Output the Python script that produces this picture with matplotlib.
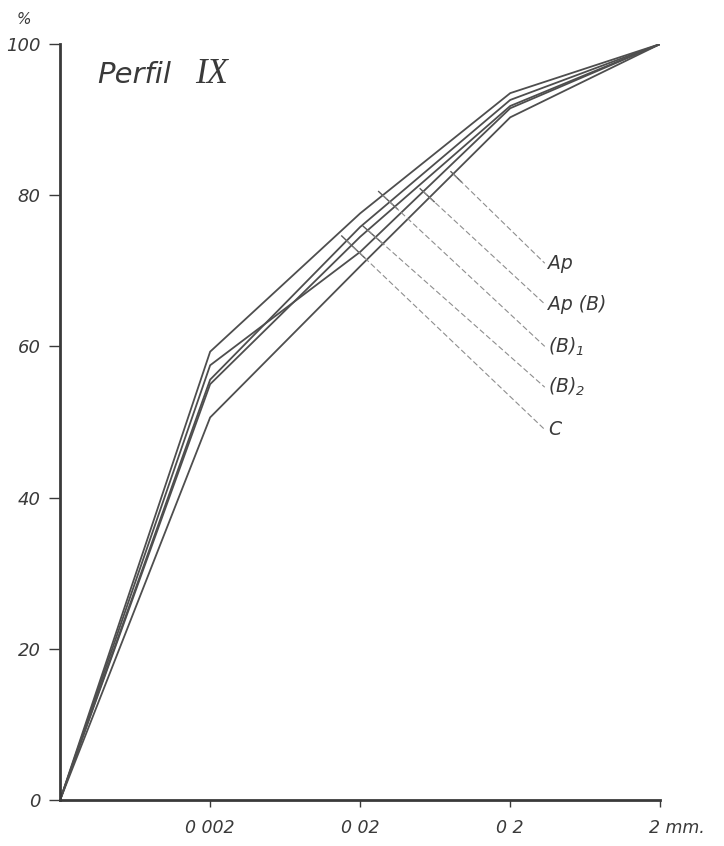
import numpy as np
import matplotlib.pyplot as plt
from matplotlib.transforms import ScaledTranslation, blended_transform_factory

# grain size limits (mm); the first entry is the lower end of the scale (0 %)
sizes = [0.0002, 0.002, 0.02, 0.2, 2.0]
tick_sizes = [0.002, 0.02, 0.2, 2.0]
tick_labels = ["0 002", "0 02", "0 2", "2 mm."]

# cumulative percentage per horizon
horizons = ["Ap", "Ap (B)", "(B)$_1$", "(B)$_2$", "C"]
pct_ap = [0, 50.6, 70.6, 90.3, 100]
pct_apb = [0, 57.5, 72.5, 91.5, 100]
pct_b1 = [0, 59.3, 77.6, 93.5, 100]
pct_b2 = [0, 55.0, 74.5, 91.8, 100]
pct_c = [0, 55.6, 75.8, 92.6, 100]
series = [pct_ap, pct_apb, pct_b1, pct_b2, pct_c]

# where each leader line leaves its curve (mm) and label heights (%)
leader_at = [0.02 * 10 ** 0.62, 0.02 * 10 ** 0.42, 0.02 * 10 ** 0.15,
             0.02 * 10 ** 0.05, 0.02 * 10 ** -0.09]
label_y = [71.0, 65.6, 60.0, 54.6, 49.0]

INK = "#3a3a3a"
plt.rcParams.update({
    "font.family": ["DejaVu Sans"],
    "font.style": "oblique",
    "mathtext.fontset": "custom",
    "mathtext.rm": "DejaVu Sans:oblique",
    "mathtext.it": "DejaVu Sans:oblique",
})

fig = plt.figure(figsize=(7.24, 8.46), dpi=100)
ax = fig.add_axes([0.083, 0.0544, 0.829, 0.8936])

for vals in series:
    ax.plot(sizes, vals, color="#4e4e4e", lw=1.3, solid_joinstyle="miter")

lx = 0.2 * 10 ** 0.23
for xa, vals, yl, name in zip(leader_at, series, label_y, horizons):
    ya = np.interp(np.log10(xa), np.log10(sizes), vals)
    # short solid tick across the curve, then a faint dashed run to the label
    t = np.array([-0.025, 0.09])
    lxs = 10 ** (np.log10(xa) + t * (np.log10(lx) - np.log10(xa)))
    lys = ya + t * (yl - ya)
    ax.plot(lxs, lys, color="#5a5a5a", lw=1.0)
    ax.plot([xa, lx], [ya, yl], color="#8e8e8e", lw=0.8, ls=(0, (5, 2.5)))
    ax.text(lx * 10 ** 0.02, yl, name, fontsize=13.5, color=INK,
            ha="left", va="center")

ax.set_xscale("log")
ax.set_xlim(sizes[0], sizes[-1])
ax.set_ylim(0, 100)
ax.minorticks_off()
ax.set_xticks(tick_sizes)
# the last label hangs to the right of its tick, so it is placed by hand
ax.set_xticklabels(tick_labels[:-1] + [""], fontsize=12.5, color=INK)
bt = blended_transform_factory(ax.transData, ax.transAxes)
ax.text(tick_sizes[-1], 0, tick_labels[-1], fontsize=12.5, color=INK,
        ha="left", va="top",
        transform=bt + ScaledTranslation(-8 / 72, -14 / 72, fig.dpi_scale_trans))
ax.set_yticks([0, 20, 40, 60, 80, 100])
ax.set_yticklabels(["0", "20", "40", "60", "80", "100"], fontsize=13, color=INK)
ax.tick_params(axis="both", direction="out", width=1.0, color=INK)
ax.tick_params(axis="y", length=8, pad=6)
ax.tick_params(axis="x", length=5, pad=9)

for side in ("top", "right"):
    ax.spines[side].set_visible(False)
for side in ("left", "bottom"):
    ax.spines[side].set_linewidth(2.0)
    ax.spines[side].set_color(INK)

ax.text(-0.06, 1.022, "%", transform=ax.transAxes, fontsize=11, color=INK,
        ha="center", va="bottom")
ax.text(0.062, 0.978, "Perfil", transform=ax.transAxes, fontsize=21,
        color=INK, ha="left", va="top")
ax.text(0.225, 0.982, "IX", transform=ax.transAxes, fontsize=25,
        color=INK, ha="left", va="top", family="Liberation Serif",
        style="italic")

fig.savefig("out.png", dpi=100)
